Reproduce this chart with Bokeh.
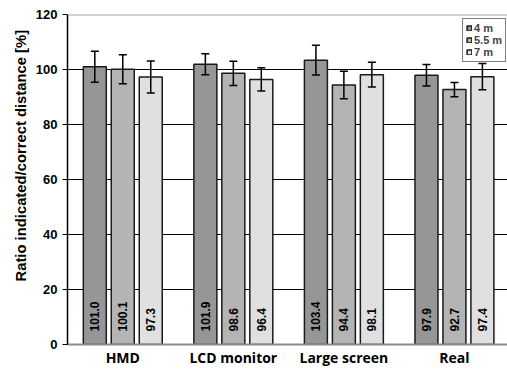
import math
from bokeh.plotting import figure
from bokeh.models import (ColumnDataSource, Whisker, TeeHead, Range1d, FixedTicker,
                          Span, Title, Legend, LegendItem)
from bokeh.core.properties import value
from bokeh.embed import file_html
from bokeh.resources import INLINE

categories = ["HMD", "LCD monitor", "Large screen", "Real"]
series = ["4 m", "5.5 m", "7 m"]
means_4 = [101.0, 101.9, 103.4, 97.9]
means_55 = [100.1, 98.6, 94.4, 92.7]
means_7 = [97.3, 96.4, 98.1, 97.4]
err_4 = [5.6, 3.8, 5.4, 3.9]
err_55 = [5.3, 4.4, 5.0, 2.6]
err_7 = [5.8, 4.2, 4.5, 4.8]
y_ticks = [0, 20, 40, 60, 80, 100, 120]
colors = ["#969696", "#b4b4b4", "#e0e0e0"]

means = [means_4, means_55, means_7]
errs = [err_4, err_55, err_7]
offsets = [-0.253, 0.0, 0.253]
bar_w = 0.208

p = figure(width=507, height=369, x_range=Range1d(0, 3.98), y_range=Range1d(0, 120),
           output_backend="svg", toolbar_location=None,
           min_border_left=67, min_border_right=0, min_border_top=14, min_border_bottom=23)
p.outline_line_color = None
p.background_fill_color = "white"
p.xgrid.visible = False
p.ygrid.ticker = FixedTicker(ticks=y_ticks[1:-1])
p.ygrid.grid_line_color = "black"
p.ygrid.grid_line_width = 1

p.yaxis.ticker = FixedTicker(ticks=y_ticks)
p.yaxis.axis_line_color = "black"
p.yaxis.axis_line_width = 1.5
p.yaxis.major_tick_out = 5
p.yaxis.major_tick_in = 0
p.yaxis.minor_tick_out = 0
p.yaxis.minor_tick_in = 0
p.yaxis.major_tick_line_color = "black"
p.yaxis.major_label_standoff = 5
p.yaxis.major_label_text_font = "Liberation Sans"
p.yaxis.major_label_text_font_style = "bold"
p.yaxis.major_label_text_font_size = "13px"
p.yaxis.major_label_text_color = "black"

centers = [i + 0.5 for i in range(len(categories))]
p.xaxis.ticker = FixedTicker(ticks=centers)
p.xaxis.major_label_overrides = {c: name for c, name in zip(centers, categories)}
p.xaxis.axis_line_color = "#8c8c8c"
p.xaxis.axis_line_width = 2
p.xaxis.major_tick_out = 0
p.xaxis.major_tick_in = 0
p.xaxis.minor_tick_out = 0
p.xaxis.minor_tick_in = 0
p.xaxis.major_label_standoff = 3
p.xaxis.major_label_text_font = "Open Sans"
p.xaxis.major_label_text_font_style = "bold"
p.xaxis.major_label_text_font_size = "14px"
p.xaxis.major_label_text_color = "black"

p.add_layout(Span(location=120, dimension="width", line_color="#a6a6a6", line_width=2))

renderers = []
for s in range(3):
    xs = [c + offsets[s] for c in centers]
    src = ColumnDataSource(dict(
        x=xs, top=means[s],
        upper=[m + e for m, e in zip(means[s], errs[s])],
        lower=[m - e for m, e in zip(means[s], errs[s])],
        lab=[f"{m:.1f}" for m in means[s]],
        y0=[0] * len(xs),
    ))
    r = p.vbar(x="x", top="top", bottom=0, width=bar_w, source=src,
               fill_color=colors[s], line_color="#1a1a1a", line_width=1.5)
    renderers.append(r)
    w = Whisker(base="x", upper="upper", lower="lower", source=src,
                line_color="black", line_width=1.5, level="overlay",
                upper_head=TeeHead(size=8, line_color="black", line_width=1.5),
                lower_head=TeeHead(size=8, line_color="black", line_width=1.5))
    p.add_layout(w)
    p.text(x="x", y="y0", text="lab", source=src, angle=math.pi / 2,
           text_align="left", text_baseline="middle", y_offset=-13,
           text_font=value("Liberation Sans"), text_font_style="bold",
           text_font_size="12px", text_color="black")

ytitle = Title(text="Ratio indicated/correct distance [%]", align="left", offset=63,
               text_font="Liberation Sans", text_font_style="bold",
               text_font_size="14.8px", text_color="black", standoff=8)
p.add_layout(ytitle, "left")

legend = Legend(items=[LegendItem(label=series[i], renderers=[renderers[i]]) for i in range(3)],
                location=(395, 282), label_text_font="Liberation Sans",
                label_text_font_style="bold", label_text_font_size="11px",
                label_text_line_height=0.8,
                label_height=10, glyph_height=6, glyph_width=6, padding=3, spacing=0,
                margin=0, label_standoff=2, border_line_color="black", border_line_width=1,
                background_fill_color="white", background_fill_alpha=1.0)
p.add_layout(legend)

open("out.html", "w").write(file_html(p, INLINE))
